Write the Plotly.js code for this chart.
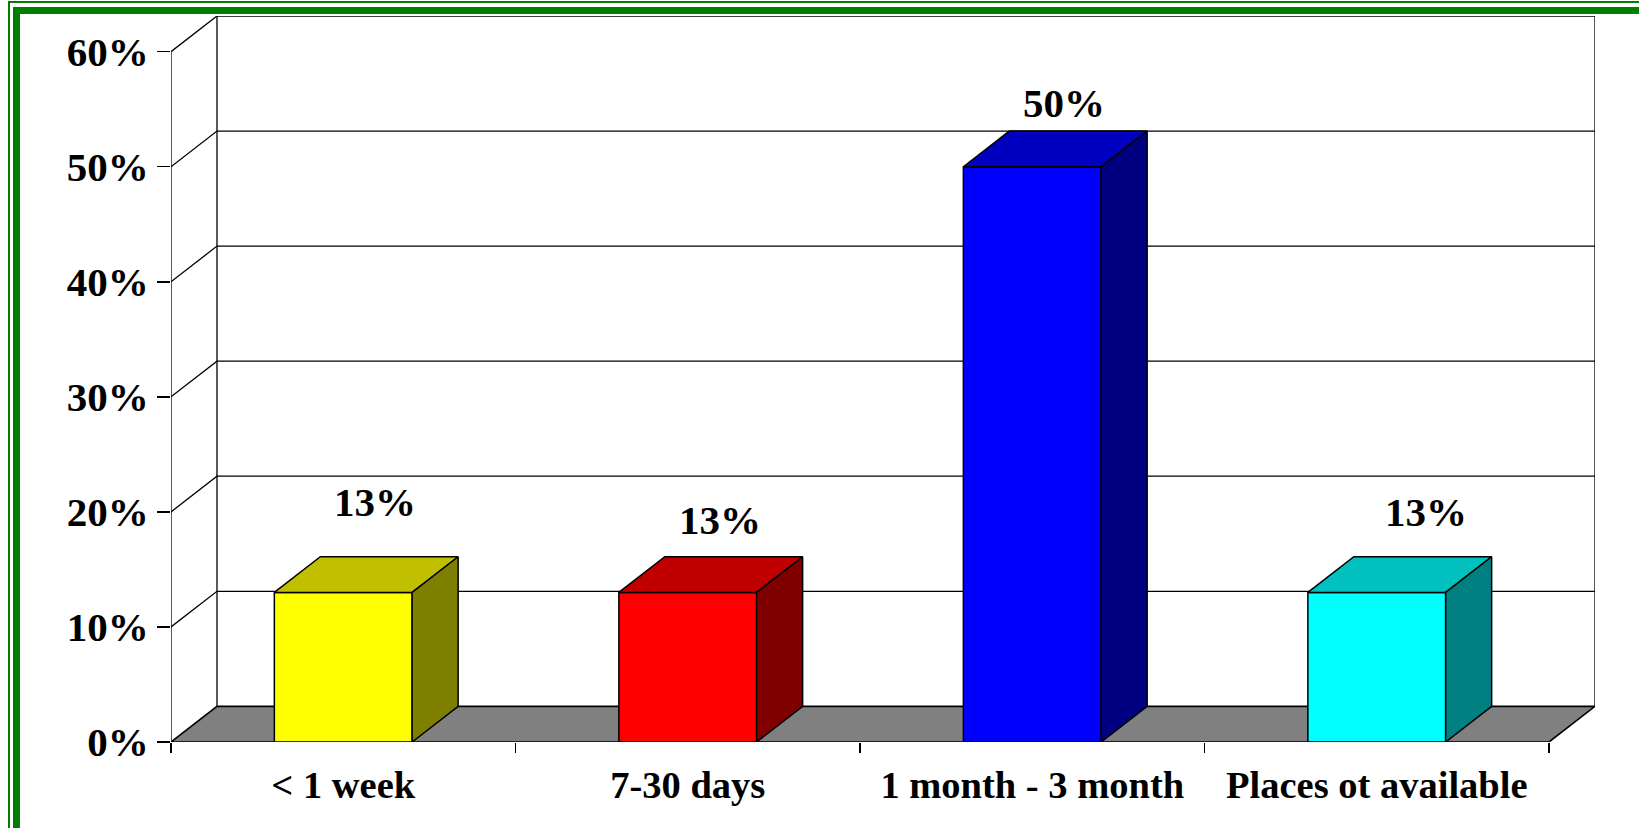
<!DOCTYPE html>
<html>
<head>
<meta charset="utf-8">
<script src="https://cdn.plot.ly/plotly-3.0.1.min.js"></script>
<style>
  html, body { margin: 0; padding: 0; background: #ffffff; overflow: hidden; }
  #chart { position: absolute; left: 0; top: 0; width: 1639px; height: 828px; }
  .frame-outer { position: absolute; left: 8px; top: 1px; width: 2000px; height: 2000px;
                 border: 2px solid #008000; pointer-events: none; }
  .frame-inner { position: absolute; left: 13px; top: 7px; width: 2000px; height: 2000px;
                 border: 7px solid #008000; pointer-events: none; }
</style>
</head>
<body>
<div id="chart"></div>
<div class="frame-outer"></div>
<div class="frame-inner"></div>
<script>
// Waiting time for a place
const categories = ['< 1 week', '7-30 days', '1 month - 3 month', 'Places ot available'];
const values = [13, 13, 50, 13];

const frontColors = ['#FFFF00', '#FF0000', '#0000FF', '#00FFFF'];
const topColors   = ['#C0C000', '#C00000', '#0000C0', '#00C0C0'];
const sideColors  = ['#808000', '#800000', '#000080', '#008080'];

const yTicks = [0, 10, 20, 30, 40, 50, 60];
const yTickText = yTicks.map(v => v + '%');

// oblique depth of the 3-D box, in axis units
const DX = 0.1335;
const DY = 3.1;
const HALF_W = 0.2;          // half bar width (gap width 150%)
const N = categories.length;
const YMAX = yTicks[yTicks.length - 1];

const FONT = { family: '"Liberation Serif", "Times New Roman", serif', color: '#000000', weight: 'bold' };

const traces = [];
const poly = (xs, ys, fill, lw) => ({
  type: 'scatter', mode: 'lines', x: xs, y: ys, fill: 'toself', fillcolor: fill,
  line: { color: '#000000', width: lw }, hoverinfo: 'skip', showlegend: false, cliponaxis: false
});

// floor
traces.push(poly([0, DX, N + DX, N, 0], [0, DY, DY, 0, 0], '#808080', 1.6));

// side-wall and back-wall gridlines, back wall edges, front value axis
const gx = [], gy = [];
yTicks.filter(v => v > 0).forEach(v => {
  gx.push(0, DX, N + DX, null);
  gy.push(v, v + DY, v + DY, null);
});
gx.push(DX, DX, null, N + DX, N + DX, null, 0, 0);
gy.push(DY, YMAX + DY, null, DY, YMAX + DY, null, 0, YMAX);
traces.push({
  type: 'scatter', mode: 'lines', x: gx, y: gy, connectgaps: false,
  line: { color: '#000000', width: 1.3 }, hoverinfo: 'skip', showlegend: false, cliponaxis: false
});

// 3-D bars: front, top and side faces
values.forEach((v, i) => {
  const c = i + 0.5, l = c - HALF_W, r = c + HALF_W;
  traces.push(poly([l, r, r, l, l], [0, 0, v, v, 0], frontColors[i], 1.5));
  traces.push(poly([l, r, r + DX, l + DX, l], [v, v, v + DY, v + DY, v], topColors[i], 1.5));
  traces.push(poly([r, r + DX, r + DX, r, r], [0, DY, v + DY, v, 0], sideColors[i], 1.5));
});

// value labels
const LABEL_DX = 0.093, LABEL_DY = 6.5;
const labelShiftX = [0, 0, 0, 17];
const labelShiftY = [16, -2, -11, 6];
const annotations = values.map((v, i) => ({
  x: i + 0.5 + LABEL_DX, y: v + LABEL_DY, xref: 'x', yref: 'y',
  text: v + '%', showarrow: false, xanchor: 'center', yanchor: 'middle',
  xshift: labelShiftX[i], yshift: labelShiftY[i],
  font: Object.assign({}, FONT, { size: 41 })
}));

const layout = {
  width: 1639, height: 828,
  margin: { l: 171, r: 43.7, t: 16, b: 85.7, pad: 0, autoexpand: false },
  paper_bgcolor: 'rgba(0,0,0,0)', plot_bgcolor: '#ffffff',
  showlegend: false,
  xaxis: {
    range: [0, N + DX], fixedrange: true, automargin: false,
    tickmode: 'array', tickvals: categories.map((_, i) => i + 0.5), ticktext: categories,
    ticks: '', showgrid: false, zeroline: false, showline: false,
    ticklabelstandoff: 16,
    tickfont: Object.assign({}, FONT, { size: 38.5 }),
    minor: { tickmode: 'array', tickvals: categories.map((_, i) => i).concat([N]),
             ticks: 'outside', ticklen: 10, tickwidth: 1.5, tickcolor: '#000000', showgrid: false }
  },
  yaxis: {
    range: [0, YMAX + DY], fixedrange: true, automargin: false,
    tickmode: 'array', tickvals: yTicks, ticktext: yTickText,
    ticks: 'outside', ticklen: 13, tickwidth: 1.5, tickcolor: '#000000',
    showgrid: false, zeroline: false, showline: false,
    ticklabelstandoff: 0,
    tickfont: Object.assign({}, FONT, { size: 41 })
  },
  annotations: annotations
};

Plotly.newPlot('chart', traces, layout, { staticPlot: true, displayModeBar: false });
</script>
</body>
</html>
